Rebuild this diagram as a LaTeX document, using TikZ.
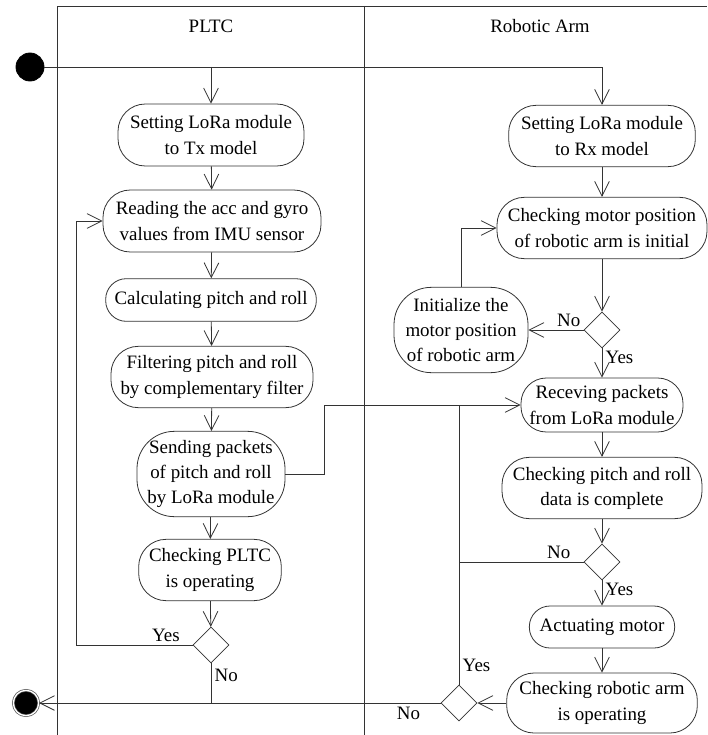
\documentclass[tikz,border=0pt]{standalone}
\usepackage{fontspec}
\setmainfont{Liberation Serif}
\usetikzlibrary{arrows.meta,shapes.geometric}

\begin{document}
\begin{tikzpicture}[x=0.75pt,y=-0.75pt,line width=0.6pt,color=black!80,
    >={Straight Barb[length=11pt,width=11pt]},
    txt/.style={text=black,font=\fontsize{14.2}{18.8}\selectfont},
    act/.style={txt,draw,rectangle,rounded corners=20.5pt,align=center,inner sep=0pt},
    dec/.style={draw,diamond,minimum width=27pt,minimum height=27pt,inner sep=0pt},
    lbl/.style={txt,inner sep=2.5pt},
    startdot/.style={circle,fill=black,draw=black,minimum size=21pt,inner sep=0pt},
    enddot/.style={circle,fill=black,draw=black!70,line width=0.5pt,double=white,double distance=1pt,minimum size=19pt,inner sep=0pt}]
                \useasboundingbox[fill=white] (0,0) rectangle (707,735);
                \draw (57,735) |- (707,6);
                \draw (364,6) -- (364,735);
                \node[txt] (pltc) at (211,26) {PLTC};
                \node[txt] (arm) at (540,26) {Robotic Arm};
                \node[startdot] (start) at (30,67) {};
                \node[enddot] (end) at (26,703) {};
                \node[act,minimum width=139.5pt,minimum height=46.5pt] (tx) at (211,135) {Setting LoRa module\\to Tx model};
                \node[act,minimum width=163.5pt,minimum height=46.5pt] (imu) at (212,221) {Reading the acc and gyro\\values from IMU sensor};
                \node[act,minimum width=158pt,minimum height=32pt,rounded corners=15.5pt] (calc) at (211,300) {Calculating pitch and roll};
                \node[act,minimum width=151.5pt,minimum height=46pt] (filt) at (212,377) {Filtering pitch and roll\\by complementary filter};
                \node[act,minimum width=111pt,minimum height=64pt,rounded corners=28pt] (send) at (211,474) {Sending packets\\of pitch and roll\\by LoRa module};
                \node[act,minimum width=107pt,minimum height=46pt] (chkp) at (210,570) {Checking PLTC\\is operating};
                \node[dec] (d1) at (211,645) {};
                \node[act,minimum width=140pt,minimum height=46pt] (rx) at (602,136) {Setting LoRa module\\to Rx model};
                \node[act,minimum width=157.5pt,minimum height=46pt] (chkm) at (602,228) {Checking motor position\\of robotic arm is initial};
                \node[dec] (d2) at (602,330) {};
                \node[act,minimum width=100.5pt,minimum height=64pt,rounded corners=28pt] (init) at (461,330) {Initialize the\\motor position\\of robotic arm};
                \node[act,minimum width=121.5pt,minimum height=40.5pt,rounded corners=19pt] (recv) at (602,405) {Receving packets\\from LoRa module};
                \node[act,minimum width=150pt,minimum height=46pt] (chkd) at (602,488) {Checking pitch and roll\\data is complete};
                \node[dec] (d3) at (602,562) {};
                \node[act,minimum width=109pt,minimum height=31.5pt,rounded corners=15.5pt] (act) at (602,627) {Actuating motor};
                \node[act,minimum width=143pt,minimum height=45pt] (chkr) at (602,703) {Checking robotic arm\\is operating};
                \node[dec] (d4) at (459,703) {};
                \draw[->] (start) -| (rx);
                \draw[->] (tx |- start) -- (tx);
                \foreach \a/\b in {tx/imu,imu/calc,calc/filt,filt/send,send/chkp,chkp/d1,rx/chkm,chkm/d2,recv/chkd,chkd/d3,act/chkr,chkr/d4}
                    \draw[->] (\a) -- (\b);
                \draw[->] (d1.west) -- node[lbl,pos=0.23,above] {Yes} ++(-116,0) |- (imu);
                \draw (d1) -- node[lbl,pos=0.3,right] {No} (d1 |- end);
                \draw[->] (send.east) -- ++(39,0) |- (recv);
                \draw[->] (d2) -- node[lbl,pos=0.27,above] {No} (init);
                \draw[->] (d2) -- node[lbl,pos=0.3,right] {Yes} (recv);
                \draw[->] (init) |- (chkm);
                \draw (d3) -- node[lbl,pos=0.2,above] {No} (d3 -| d4);
                \draw[->] (d3) -- node[lbl,pos=0.35,right] {Yes} (act);
                \draw (d4) -- node[lbl,pos=0.07,right] {Yes} (d4 |- recv);
                \draw[->] (d4) -- node[lbl,pos=0.08,below] {No} (end);
            \end{tikzpicture}
\end{document}
